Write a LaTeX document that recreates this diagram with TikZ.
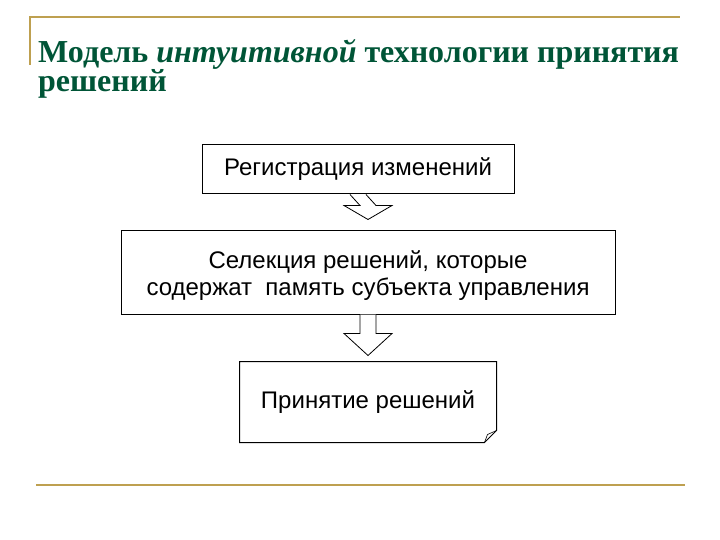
\documentclass[tikz,border=0pt]{standalone}
\usepackage{fontspec}
\setmainfont{Liberation Serif}
\newfontfamily\boxfont{Liberation Sans}
\usetikzlibrary{positioning,calc}

\definecolor{titlegreen}{RGB}{0,85,55}
\definecolor{rulegold}{RGB}{190,160,80}

% block arrow from the bottom of one box to the top of the next
\newcommand\blockarrow[4]{%
  \path (#2.north) ++(0,#3) coordinate (#2tip);
  \draw[blockarr] ($(#1.south)+(-8,0)$) -- ($(#2tip)+(-8,#4)$)
    -- ($(#2tip)+(-24,#4)$) -- (#2tip) -- ($(#2tip)+(24,#4)$)
    -- ($(#2tip)+(8,#4)$) -- ($(#1.south)+(8,0)$);
}

\begin{document}
\begin{tikzpicture}[
    x=1pt, y=1pt,
    boxtext/.style={align=center, inner sep=0pt,
      font=\boxfont\fontsize{24}{27}\selectfont},
    box/.style={boxtext, rectangle, draw, line width=1pt},
    blockarr/.style={draw, line width=0.8pt, fill=white},
    rule/.style={draw=rulegold, line width=2pt}
]
    \useasboundingbox (0,0) rectangle (720,-540);

    % frame rules
    \draw[rule] (30,-65) -- (30,-17) -- (680,-17);
    \draw[rule] (36,-485) -- (685,-485);

    \node[anchor=base west, align=left, text=titlegreen, inner sep=0pt,
      font=\bfseries\fontsize{32}{27}\selectfont] (title) at (38,-92)
      {Модель \textit{интуитивной} технологии принятия\\решений};

    \node[box, minimum width=312, minimum height=49] (reg) at (358,-169.5)
      {Регистрация изменений};
    \node[box, minimum width=494, minimum height=83, below=36 of reg, xshift=10] (sel) {};
    \node[boxtext, yshift=-3] (seltext) at (sel)
      {Селекция решений, которые\\содержат\ \ память субъекта управления};
    \node[box, draw=none, minimum width=256, minimum height=80, below=47 of sel] (dec)
      {Принятие решений};
    % box with folded corner
    \draw[line width=1pt] (dec.north west) -- (dec.north east)
      -- ($(dec.south east)+(0,12)$) -- ($(dec.south east)+(-12,0)$)
      -- (dec.south west) -- cycle;
    \draw[line width=0.6pt] ($(dec.south east)+(0,12)$) -- ($(dec.south east)+(-9,8)$)
      -- ($(dec.south east)+(-12,0)$);

    \blockarrow{reg}{sel}{11}{14}
    \blockarrow{sel}{dec}{6}{22}
\end{tikzpicture}
\end{document}
